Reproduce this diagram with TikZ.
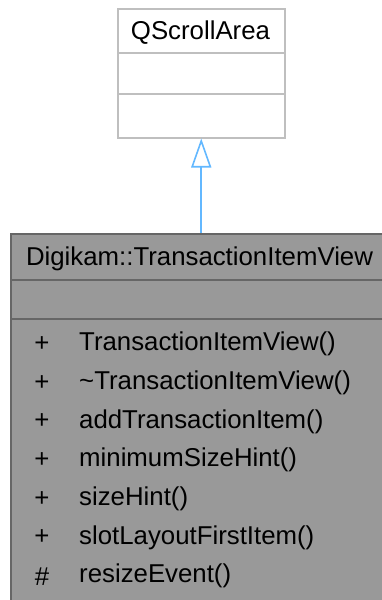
\documentclass[tikz,border=0pt]{standalone}
\usepackage{fontspec}
\setmainfont{Liberation Sans}
\usetikzlibrary{arrows.meta}

\definecolor{baseedge}{HTML}{BFBFBF}
\definecolor{classfill}{HTML}{999999}
\definecolor{classedge}{HTML}{666666}
\definecolor{inheritblue}{HTML}{63B8FF}

\tikzset{
  basebox/.style={draw=baseedge, fill=white, line width=1.5pt, rectangle, inner sep=0pt},
  classbox/.style={draw=classedge, fill=classfill, line width=1.5pt, rectangle, inner sep=0pt},
  membertext/.style={font=\fontsize{25.8}{30}\selectfont, inner sep=0pt, text=black},
  inherit/.style={color=inheritblue, line width=1.6pt, -{Triangle[open, length=29pt, width=20pt, fill=white]}}
}

\begin{document}
\begin{tikzpicture}[x=1pt, y=-1pt]
    \useasboundingbox (0,0) rectangle (381,600);

    % base class
    \node[basebox, minimum width=167pt, minimum height=129pt, anchor=north west] (base) at (117,8) {};
    \draw[baseedge, line width=1.5pt] (117,53) -- (284,53);
    \draw[baseedge, line width=1.5pt] (117,94) -- (284,94);
    \node[membertext] (basename) at (200.5,33) {QScrollArea};

    % derived class
    \node[classbox, minimum width=381pt, minimum height=390pt, anchor=north west] (derived) at (10,233) {};
    \draw[classedge, line width=1.5pt] (10,280) -- (391,280);
    \draw[classedge, line width=1.5pt] (10,319) -- (391,319);
    \node[membertext] (derivedname) at (199.5,259) {Digikam::TransactionItemView};

    \foreach \vis/\meth [count=\i from 0] in {+/TransactionItemView(), +/\textasciitilde TransactionItemView(), +/addTransactionItem(), +/minimumSizeHint(), +/sizeHint(), +/slotLayoutFirstItem(), \#/resizeEvent()} {
        \node[membertext] (vis\i) at (42,{344+38.7*\i}) {\vis};
        \node[membertext, anchor=west] (meth\i) at (79,{344+38.7*\i}) {\meth};
    }

    \draw[inherit] (derived.north -| base.south) -- (base.south);
\end{tikzpicture}
\end{document}
